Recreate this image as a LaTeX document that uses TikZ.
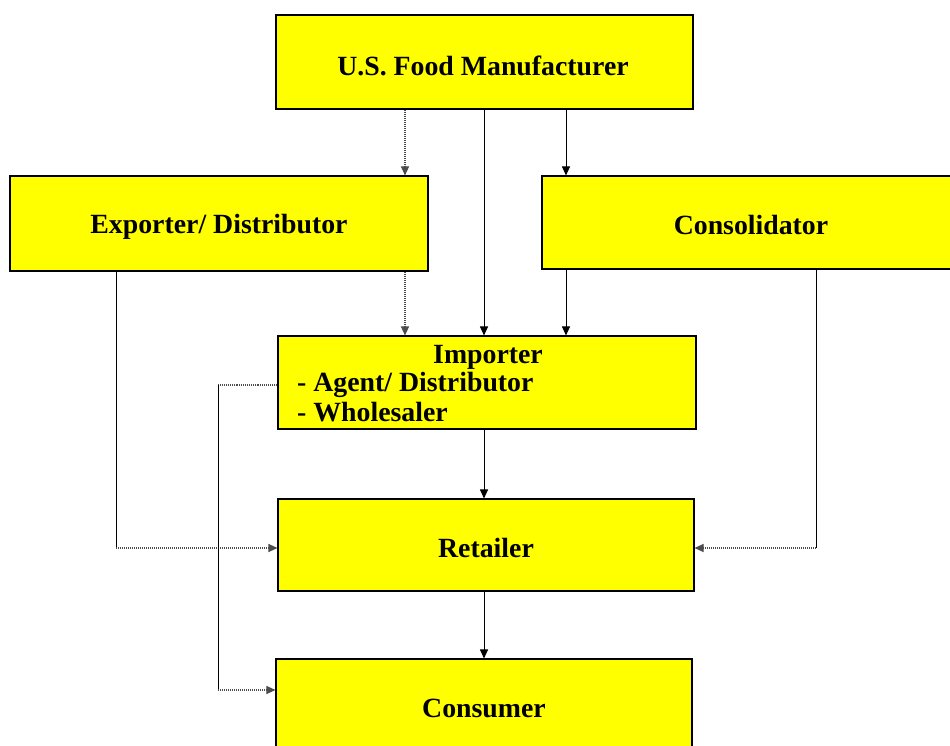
\documentclass[tikz,border=0pt]{standalone}
\usepackage{fontspec}
\setmainfont{Liberation Serif}
\usetikzlibrary{arrows.meta}
\definecolor{boxyellow}{RGB}{255,255,0}
\tikzset{
  box/.style={draw=black, line width=1.1pt, fill=boxyellow, rectangle, inner sep=0pt},
  lbl/.style={font=\fontsize{27.8}{30}\selectfont\bfseries, inner sep=0pt},
  conn/.style={line width=1pt, -{Triangle[length=9pt,width=8pt]}},
  plain/.style={line width=1pt},
  dots/.style={densely dotted, line width=1.1pt, black!70},
}
\begin{document}
\begin{tikzpicture}[x=1pt,y=-1pt]
\useasboundingbox (0,0) rectangle (950,746);
\clip (0,0) rectangle (950,746);
% boxes
\node[box, minimum width=417pt, minimum height=94pt] (mfr) at (484.5,62) {};
\node[box, minimum width=418pt, minimum height=95pt] (exp) at (219,223.5) {};
\node[box, minimum width=414pt, minimum height=93pt] (con) at (749,222.5) {};
\node[box, minimum width=418pt, minimum height=93pt] (imp) at (487,382.5) {};
\node[box, minimum width=416pt, minimum height=92pt] (ret) at (486,545) {};
\node[box, minimum width=416pt, minimum height=102pt] (cons) at (484,710) {};
% texts
\node[lbl] (tmfr) at (483,66) {U.S. Food Manufacturer};
\node[lbl] (texp) at (219,227) {Exporter/ Distributor};
\node[lbl] (tcon) at (751,225) {Consolidator};
\node[lbl] (timp1) at (488,357) {Importer};
\node[lbl, anchor=west] (timp2) at (297,385) {- Agent/ Distributor};
\node[lbl, anchor=west] (timp3) at (297,412) {- Wholesaler};
\node[lbl] (tret) at (486,548) {Retailer};
\node[lbl] (tcons) at (484,708) {Consumer};
% reference columns
\coordinate (cA) at (405,0);
\coordinate (cB) at (484,0);
\coordinate (cC) at (566,0);
\coordinate (cL) at (116,548);
\coordinate (cR) at (816,548);
\coordinate (cI) at (218,385);
\coordinate (cJ) at (218,690);
% connectors
\draw[conn, dots] (mfr.south -| cA) -- (exp.north -| cA);
\draw[conn] (mfr.south -| cB) -- (imp.north -| cB);
\draw[conn] (mfr.south -| cC) -- (con.north -| cC);
\draw[conn, dots] (exp.south -| cA) -- (imp.north -| cA);
\draw[conn] (con.south -| cC) -- (imp.north -| cC);
\draw[conn] (imp.south -| cB) -- (ret.north -| cB);
\draw[conn] (ret.south -| cB) -- (cons.north -| cB);
% exporter -> retailer
\draw[plain] (exp.south -| cL) -- (cL);
\draw[conn, dots] (cL) -- (ret.west |- cL);
% consolidator -> retailer
\draw[plain] (con.south -| cR) -- (cR);
\draw[conn, dots] (cR) -- (ret.east |- cR);
% importer -> consumer
\draw[dots] (imp.west |- cI) -- (cI);
\draw[plain] (cI) -- (cJ);
\draw[conn, dots] (cJ) -- (cons.west |- cJ);
\end{tikzpicture}
\end{document}
